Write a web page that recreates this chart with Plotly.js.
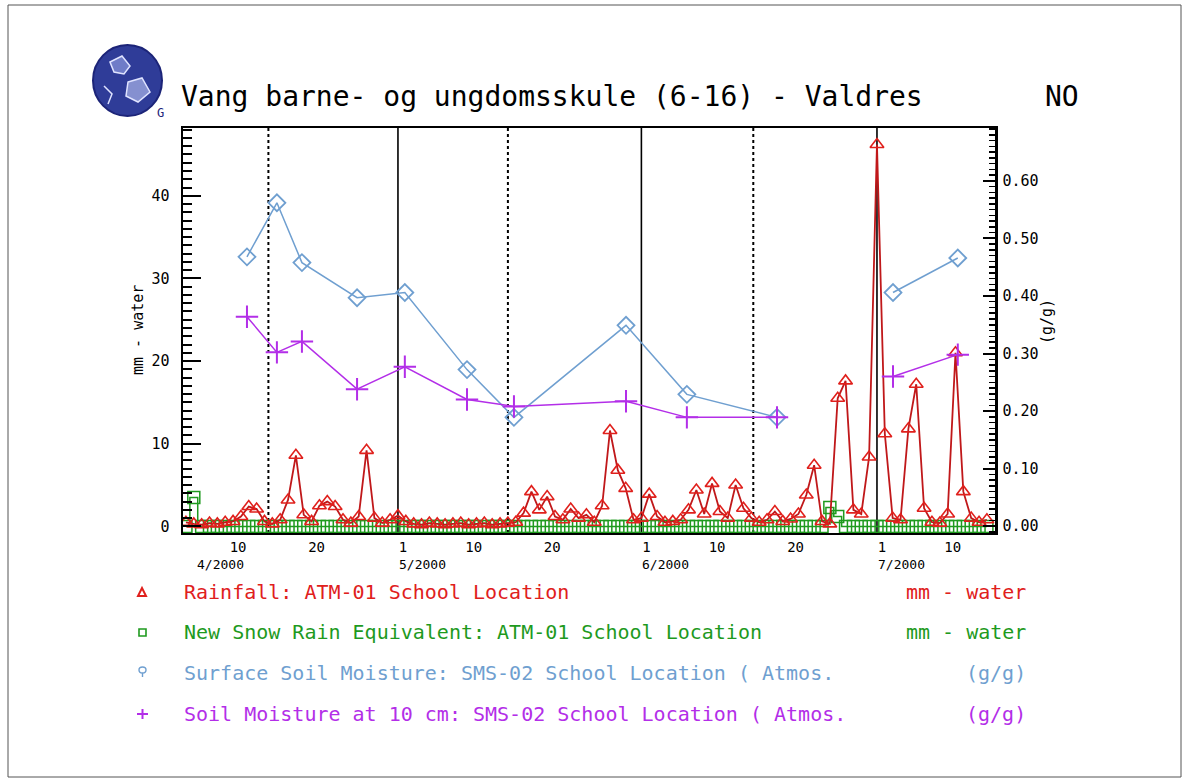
<!DOCTYPE html>
<html>
<head>
<meta charset="utf-8">
<script src="https://cdn.plot.ly/plotly-3.0.1.min.js"></script>
<style>html,body{margin:0;padding:0;background:#fff;}#chart{width:1188px;height:784px;}</style>
</head>
<body>
<div id="chart"></div>
<script>
// ---------------- DATA ----------------
const rainDates = [
 '2000-04-04','2000-04-05','2000-04-06','2000-04-07','2000-04-08','2000-04-09','2000-04-10','2000-04-11','2000-04-12','2000-04-13',
 '2000-04-14','2000-04-15','2000-04-16','2000-04-17','2000-04-18','2000-04-19','2000-04-20','2000-04-21','2000-04-22','2000-04-23',
 '2000-04-24','2000-04-25','2000-04-26','2000-04-27','2000-04-28','2000-04-29','2000-04-30',
 '2000-05-01','2000-05-02','2000-05-03','2000-05-04','2000-05-05','2000-05-06','2000-05-07','2000-05-08','2000-05-09','2000-05-10',
 '2000-05-11','2000-05-12','2000-05-13','2000-05-14','2000-05-15','2000-05-16','2000-05-17','2000-05-18','2000-05-19','2000-05-20',
 '2000-05-21','2000-05-22','2000-05-23','2000-05-24','2000-05-25','2000-05-26','2000-05-27','2000-05-28','2000-05-29','2000-05-30','2000-05-31',
 '2000-06-01','2000-06-02','2000-06-03','2000-06-04','2000-06-05','2000-06-06','2000-06-07','2000-06-08','2000-06-09','2000-06-10',
 '2000-06-11','2000-06-12','2000-06-13','2000-06-14','2000-06-15','2000-06-16','2000-06-17','2000-06-18','2000-06-19','2000-06-20',
 '2000-06-21','2000-06-22','2000-06-23','2000-06-24','2000-06-25','2000-06-26','2000-06-27','2000-06-28','2000-06-29','2000-06-30',
 '2000-07-01','2000-07-02','2000-07-03','2000-07-04','2000-07-05','2000-07-06','2000-07-07','2000-07-08','2000-07-09','2000-07-10',
 '2000-07-11','2000-07-12','2000-07-13','2000-07-14','2000-07-15'
];
const rainfallMm = [
 0.5,0.3,0.2,0.4,0.3,0.5,0.6,1.2,2.4,2.1,
 0.6,0.3,0.8,3.2,8.6,1.4,0.6,2.5,3.0,2.4,
 0.8,0.4,1.2,9.2,1.0,0.4,0.8,
 1.3,0.6,0.3,0.2,0.4,0.3,0.2,0.3,0.4,0.2,
 0.3,0.4,0.2,0.3,0.4,0.5,1.6,4.2,2.0,3.6,
 1.2,0.8,2.1,1.0,1.4,0.5,2.5,11.6,6.8,4.6,0.8,
 1.0,3.9,1.2,0.5,0.6,0.8,2.0,4.4,1.5,5.2,
 1.8,1.0,5.0,2.2,1.0,0.5,0.8,1.8,0.6,0.9,
 1.5,3.8,7.4,0.6,0.3,15.5,17.6,2.0,1.5,8.4,
 46.2,11.2,1.0,0.8,11.8,17.2,2.2,0.5,0.4,1.5,
 21.0,4.2,1.0,0.5,0.8
];
const snowMm = [
 0,3.5,0,0,0,0,0,0,0,0,
 0,0,0,0,0,0,0,0,0,0,
 0,0,0,0,0,0,0,
 0,0,0,0,0,0,0,0,0,0,
 0,0,0,0,0,0,0,0,0,0,
 0,0,0,0,0,0,0,0,0,0,0,
 0,0,0,0,0,0,0,0,0,0,
 0,0,0,0,0,0,0,0,0,0,
 0,0,0,0,2.3,1.2,0,0,0,0,
 0,0,0,0,0,0,0,0,0,0,
 0,0,0,0,0
];
const soilDates = [
 '2000-04-11 18:30','2000-04-15 14:00','2000-04-18 18:30','2000-04-25 19:00','2000-05-01 21:00',
 '2000-05-09 19:00','2000-05-15 18:30','2000-05-30 01:00','2000-06-06 19:00','2000-06-18 06:30',
 '2000-06-26 00:00','2000-07-03 01:00','2000-07-11 07:00'
];
const surfaceMoisture = [0.468,0.562,0.458,0.397,0.406,0.272,0.189,0.349,0.229,0.189,null,0.406,0.466];
const moisture10cm    = [0.364,0.302,0.321,0.238,0.277,0.220,0.208,0.217,0.189,0.189,null,0.260,0.298];

const tickDates  = ['2000-04-10','2000-04-20','2000-05-01','2000-05-10','2000-05-20','2000-06-01','2000-06-10','2000-06-20','2000-07-01','2000-07-10'];
const tickLabels = ['10','20','1','10','20','1','10','20','1','10'];
const monthLabels = ['4/2000','5/2000','6/2000','7/2000'];
const monthLabelDates = ['2000-04-11 12:00','2000-05-01','2000-06-01','2000-07-01'];
const monthLines = ['2000-05-01','2000-06-01','2000-07-01'];
const midMonthLines = ['2000-04-14 12:00','2000-05-15','2000-06-15 06:00'];

const titleText = 'Vang barne- og ungdomsskule (6-16) - Valdres';
const legendNames = [
 'Rainfall: ATM-01 School Location',
 'New Snow Rain Equivalent: ATM-01 School Location',
 'Surface Soil Moisture: SMS-02 School Location ( Atmos.',
 'Soil Moisture at 10 cm: SMS-02 School Location ( Atmos.'
];
const legendUnits = ['mm - water','mm - water','(g/g)','(g/g)'];

// ---------------- STYLE ----------------
const RED = '#e0201c', RED_LINE = '#c0181a', GREEN = '#1e9a1e', BLUE = '#6f9fd0', PURPLE = '#b32ee8';
const MONO = 'DejaVu Sans Mono, monospace';
const L = 183, R = 995, T = 128, B = 533;
const PX = x => (x - L) / (R - L);
const PY = y => (B - y) / (B - T);

const traces = [
 {x: rainDates, y: snowMm, type:'scatter', mode:'lines+markers', line:{shape:'hvh', color:GREEN, width:1.5},
  marker:{symbol:'square-open', size:12, color:GREEN, line:{width:1.5}}, hoverinfo:'skip'},
 {x: rainDates, y: rainfallMm, type:'scatter', mode:'lines+markers', line:{color:RED_LINE, width:1.8},
  marker:{symbol:'triangle-up-open', size:12, color:RED, line:{width:1.6, color:RED}}, hoverinfo:'skip'},
 {x: soilDates, y: surfaceMoisture, yaxis:'y2', type:'scatter', mode:'lines+markers', connectgaps:false,
  line:{color:BLUE, width:1.5}, marker:{symbol:'diamond-open', size:13, color:BLUE, line:{width:1.8}}, hoverinfo:'skip'},
 {x: soilDates, y: moisture10cm, yaxis:'y2', type:'scatter', mode:'lines+markers', connectgaps:false,
  line:{color:PURPLE, width:1.5}, marker:{symbol:'cross-thin-open', size:16, color:PURPLE, line:{width:2, color:PURPLE}}, hoverinfo:'skip'}
];

const shapes = [];
monthLines.forEach(d => shapes.push({type:'line', xref:'x', yref:'paper', x0:d, x1:d, y0:0, y1:1, layer:'below', line:{color:'black', width:1.6}}));
midMonthLines.forEach(d => shapes.push({type:'line', xref:'x', yref:'paper', x0:d, x1:d, y0:0, y1:1, layer:'below', line:{color:'black', width:2, dash:'dot'}}));
// outer frame
shapes.push({type:'rect', xref:'paper', yref:'paper', x0:PX(8), x1:PX(1181), y0:PY(777), y1:PY(5), line:{color:'#555', width:1}, layer:'below'});
// logo
shapes.push({type:'circle', xref:'paper', yref:'paper', x0:PX(93), x1:PX(162), y0:PY(116), y1:PY(45), fillcolor:'#2f3c98', line:{color:'#1c2478', width:2}});
const pth = pts => 'M ' + pts.map(p => PX(p[0]) + ',' + PY(p[1])).join(' L ');
shapes.push({type:'path', xref:'paper', yref:'paper', path:pth([[110,62],[122,56],[130,66],[124,74],[114,72]]) + ' Z', fillcolor:'#6f7cc8', line:{color:'#dfe3ff', width:1.5}});
shapes.push({type:'path', xref:'paper', yref:'paper', path:pth([[128,82],[142,78],[150,92],[138,102],[126,96]]) + ' Z', fillcolor:'#8590d0', line:{color:'#dfe3ff', width:1.5}});
shapes.push({type:'path', xref:'paper', yref:'paper', path:pth([[104,86],[112,94],[108,104]]), line:{color:'#dfe3ff', width:1.5}});
// legend symbols
const legY = [592, 632, 673, 714];
shapes.push({type:'path', xref:'paper', yref:'paper', path:pth([[138,596],[146,596],[142,588]]) + ' Z', line:{color:RED, width:2}});
shapes.push({type:'rect', xref:'paper', yref:'paper', x0:PX(139), x1:PX(146), y0:PY(636), y1:PY(629), line:{color:GREEN, width:1.6}});
shapes.push({type:'circle', xref:'paper', yref:'paper', x0:PX(139), x1:PX(146), y0:PY(673), y1:PY(667), line:{color:BLUE, width:1.4}});
shapes.push({type:'line', xref:'paper', yref:'paper', x0:PX(142.5), x1:PX(142.5), y0:PY(677), y1:PY(673), line:{color:BLUE, width:1.4}});
shapes.push({type:'line', xref:'paper', yref:'paper', x0:PX(137), x1:PX(148), y0:PY(714), y1:PY(714), line:{color:PURPLE, width:2}});
shapes.push({type:'line', xref:'paper', yref:'paper', x0:PX(142.5), x1:PX(142.5), y0:PY(709), y1:PY(719), line:{color:PURPLE, width:2}});

const annotations = [];
annotations.push({xref:'paper', yref:'paper', x:PX(179), y:PY(97), xanchor:'left', yanchor:'middle', text:titleText, showarrow:false, font:{family:MONO, size:28, color:'black'}});
annotations.push({xref:'paper', yref:'paper', x:PX(1043), y:PY(97), xanchor:'left', yanchor:'middle', text:'NO', showarrow:false, font:{family:MONO, size:28, color:'black'}});
annotations.push({xref:'paper', yref:'paper', x:PX(160), y:PY(113), xanchor:'center', yanchor:'middle', text:'G', showarrow:false, font:{family:MONO, size:12, color:'#1c2478'}});
annotations.push({xref:'paper', yref:'paper', x:PX(138), y:PY(330), xanchor:'center', yanchor:'middle', textangle:-90, text:'mm - water', showarrow:false, font:{family:MONO, size:15, color:'black'}});
annotations.push({xref:'paper', yref:'paper', x:PX(1047), y:PY(322), xanchor:'center', yanchor:'middle', textangle:-90, text:'(g/g)', showarrow:false, font:{family:MONO, size:15, color:'black'}});
monthLabels.forEach((t, i) => annotations.push({xref:'x', yref:'paper', x:monthLabelDates[i], y:PY(556), xanchor: i === 0 ? 'right' : 'left', yanchor:'top', text:t, showarrow:false, borderpad:0, font:{family:MONO, size:13, color:'black'}}));
const legColors = [RED, GREEN, BLUE, PURPLE];
legendNames.forEach((t, i) => {
 annotations.push({xref:'paper', yref:'paper', x:PX(182), y:PY(legY[i]), xanchor:'left', yanchor:'middle', text:t, showarrow:false, font:{family:MONO, size:20, color:legColors[i]}});
 annotations.push({xref:'paper', yref:'paper', x:PX(1028), y:PY(legY[i]), xanchor:'right', yanchor:'middle', text:legendUnits[i], showarrow:false, font:{family:MONO, size:20, color:legColors[i]}});
});

const layout = {
 width:1188, height:784,
 margin:{l:L, r:1188-R, t:T, b:784-B, pad:0},
 paper_bgcolor:'white', plot_bgcolor:'white', showlegend:false,
 font:{family:MONO, color:'black'},
 xaxis:{type:'date', range:['2000-04-03 15:00','2000-07-16 00:45'], tickmode:'array', tickvals:tickDates, ticktext:tickLabels,
   ticks:'', showgrid:false, zeroline:false, showline:true, linecolor:'black', linewidth:2, mirror:true,
   tickfont:{family:MONO, size:14, color:'black'}, ticklabelshift:5, ticklabelstandoff:0},
 yaxis:{range:[-0.8,48.2], tick0:0, dtick:10, ticks:'inside', ticklen:18, tickwidth:2, tickcolor:'black',
   minor:{dtick:1, tick0:0, ticks:'inside', ticklen:9, tickwidth:2, tickcolor:'black', showgrid:false},
   showgrid:false, zeroline:false, showline:true, linecolor:'black', linewidth:2.5,
   tickfont:{family:MONO, size:15, color:'black'}, ticklabelstandoff:8},
 yaxis2:{overlaying:'y', side:'right', range:[-0.012,0.692], tick0:0, dtick:0.1, tickformat:'.2f',
   ticks:'inside', ticklen:12, tickwidth:2, tickcolor:'black',
   minor:{dtick:0.01, tick0:0, ticks:'inside', ticklen:6, tickwidth:1.5, tickcolor:'black', showgrid:false},
   showgrid:false, zeroline:false, showline:true, linecolor:'black', linewidth:2.5,
   tickfont:{family:MONO, size:15, color:'black'}, ticklabelstandoff:2},
 shapes:shapes, annotations:annotations
};

Plotly.newPlot('chart', traces, layout, {staticPlot:true, displayModeBar:false});
</script>
</body>
</html>
